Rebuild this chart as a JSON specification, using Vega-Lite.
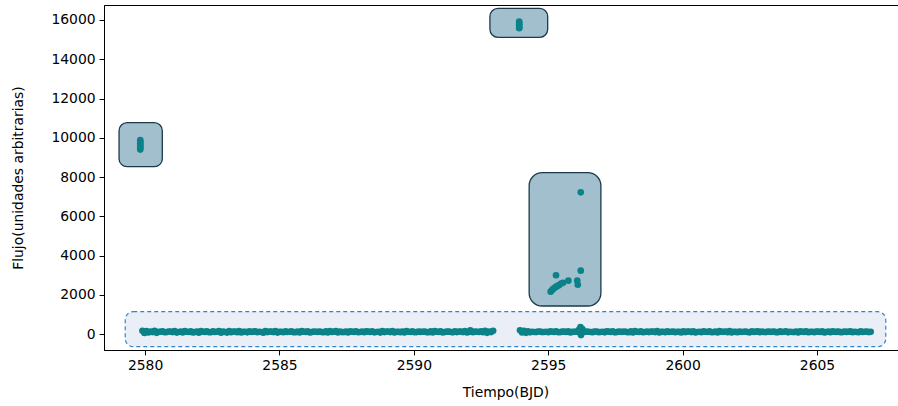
{
  "$schema": "https://vega.github.io/schema/vega-lite/v6.json",
  "autosize": "none",
  "padding": {"left": 104, "top": 5, "right": 0, "bottom": 56},
  "width": 803,
  "height": 345,
  "config": {
    "view": {"stroke": "#000000", "strokeWidth": 1},
    "font": "DejaVu Sans",
    "axis": {
      "labelFont": "DejaVu Sans", "labelFontSize": 13.9, "labelColor": "#000000",
      "titleFont": "DejaVu Sans", "titleFontSize": 13.9, "titleFontWeight": "normal", "titleColor": "#000000",
      "domainColor": "#000000", "tickColor": "#000000", "tickSize": 4.9, "labelPadding": 4, "grid": false
    }
  },
  "datasets": {
    "boxes": [
      {"x": 2579.03, "x2": 2580.64, "y": 10768, "y2": 8529},
      {"x": 2592.83, "x2": 2594.98, "y": 16590, "y2": 15115}
    ],
    "mid": [
      {"x": 2594.29, "x2": 2596.96, "y": 8224, "y2": 1440}
    ],
    "base": [
      {"x": 2579.26, "x2": 2607.56, "y": 1150, "y2": -631}
    ],
    "pts": [
      {"t": 2579.82, "f": 9880}, {"t": 2579.82, "f": 9800}, {"t": 2579.82, "f": 9720}, {"t": 2579.82, "f": 9640}, {"t": 2579.82, "f": 9560}, {"t": 2579.82, "f": 9480}, {"t": 2579.82, "f": 9400},
      {"t": 2593.92, "f": 15920}, {"t": 2593.92, "f": 15850}, {"t": 2593.92, "f": 15780}, {"t": 2593.92, "f": 15700}, {"t": 2593.92, "f": 15620}, {"t": 2593.92, "f": 15580},
      {"t": 2596.21, "f": 7226}, {"t": 2596.21, "f": 3237}, {"t": 2595.29, "f": 3002}, {"t": 2595.75, "f": 2728}, {"t": 2596.08, "f": 2728}, {"t": 2596.1, "f": 2524},
      {"t": 2595.09, "f": 2170}, {"t": 2595.15, "f": 2260}, {"t": 2595.2, "f": 2330}, {"t": 2595.27, "f": 2400}, {"t": 2595.33, "f": 2450}, {"t": 2595.4, "f": 2500}, {"t": 2595.48, "f": 2580}, {"t": 2595.55, "f": 2620},
      {"t": 2579.90, "f": 180}, {"t": 2580.05, "f": 161}, {"t": 2580.20, "f": 140}, {"t": 2580.35, "f": 176}, {"t": 2580.50, "f": 122}, {"t": 2580.65, "f": 149}, {"t": 2580.80, "f": 110}, {"t": 2580.95, "f": 137}, {"t": 2581.10, "f": 164}, {"t": 2581.25, "f": 116},
      {"t": 2581.40, "f": 92}, {"t": 2581.55, "f": 131}, {"t": 2581.70, "f": 155}, {"t": 2581.85, "f": 113}, {"t": 2582.00, "f": 80}, {"t": 2582.15, "f": 128}, {"t": 2582.30, "f": 146}, {"t": 2582.45, "f": 101}, {"t": 2582.60, "f": 119}, {"t": 2582.75, "f": 170},
      {"t": 2582.90, "f": 134}, {"t": 2583.05, "f": 86}, {"t": 2583.20, "f": 107}, {"t": 2583.35, "f": 143}, {"t": 2583.50, "f": 158}, {"t": 2583.65, "f": 122}, {"t": 2583.80, "f": 98}, {"t": 2583.95, "f": 116}, {"t": 2584.10, "f": 149}, {"t": 2584.25, "f": 131},
      {"t": 2584.40, "f": 83}, {"t": 2584.55, "f": 110}, {"t": 2584.70, "f": 137}, {"t": 2584.85, "f": 164}, {"t": 2585.00, "f": 125}, {"t": 2585.15, "f": 101}, {"t": 2585.30, "f": 119}, {"t": 2585.45, "f": 146}, {"t": 2585.60, "f": 107}, {"t": 2585.75, "f": 92},
      {"t": 2585.90, "f": 134}, {"t": 2586.05, "f": 155}, {"t": 2586.20, "f": 113}, {"t": 2586.35, "f": 128}, {"t": 2586.50, "f": 140}, {"t": 2586.65, "f": 104}, {"t": 2586.80, "f": 89}, {"t": 2586.95, "f": 122}, {"t": 2587.10, "f": 161}, {"t": 2587.25, "f": 137},
      {"t": 2587.40, "f": 110}, {"t": 2587.55, "f": 95}, {"t": 2587.70, "f": 128}, {"t": 2587.85, "f": 149}, {"t": 2588.00, "f": 116}, {"t": 2588.15, "f": 101}, {"t": 2588.30, "f": 134}, {"t": 2588.45, "f": 152}, {"t": 2588.60, "f": 119}, {"t": 2588.75, "f": 86},
      {"t": 2588.90, "f": 113}, {"t": 2589.05, "f": 140}, {"t": 2589.20, "f": 158}, {"t": 2589.35, "f": 125}, {"t": 2589.50, "f": 107}, {"t": 2589.65, "f": 92}, {"t": 2589.80, "f": 131}, {"t": 2589.95, "f": 146}, {"t": 2590.10, "f": 110}, {"t": 2590.25, "f": 122},
      {"t": 2590.40, "f": 143}, {"t": 2590.55, "f": 104}, {"t": 2590.70, "f": 89}, {"t": 2590.85, "f": 128}, {"t": 2591.00, "f": 155}, {"t": 2591.15, "f": 116}, {"t": 2591.30, "f": 134}, {"t": 2591.45, "f": 98}, {"t": 2591.60, "f": 113}, {"t": 2591.75, "f": 140},
      {"t": 2591.90, "f": 161}, {"t": 2592.05, "f": 122}, {"t": 2592.10, "f": 200}, {"t": 2592.20, "f": 107}, {"t": 2592.35, "f": 131}, {"t": 2592.50, "f": 149}, {"t": 2592.65, "f": 176}, {"t": 2592.80, "f": 140}, {"t": 2592.95, "f": 180},
      {"t": 2579.975, "f": 70}, {"t": 2580.125, "f": 89}, {"t": 2580.275, "f": 110}, {"t": 2580.425, "f": 74}, {"t": 2580.575, "f": 128}, {"t": 2580.725, "f": 101}, {"t": 2580.875, "f": 140}, {"t": 2581.025, "f": 113}, {"t": 2581.175, "f": 86}, {"t": 2581.325, "f": 134},
      {"t": 2581.475, "f": 158}, {"t": 2581.625, "f": 119}, {"t": 2581.775, "f": 95}, {"t": 2581.925, "f": 137}, {"t": 2582.075, "f": 170}, {"t": 2582.225, "f": 122}, {"t": 2582.375, "f": 104}, {"t": 2582.525, "f": 149}, {"t": 2582.675, "f": 131}, {"t": 2582.825, "f": 80},
      {"t": 2582.975, "f": 116}, {"t": 2583.125, "f": 164}, {"t": 2583.275, "f": 143}, {"t": 2583.425, "f": 107}, {"t": 2583.575, "f": 92}, {"t": 2583.725, "f": 128}, {"t": 2583.875, "f": 152}, {"t": 2584.025, "f": 134}, {"t": 2584.175, "f": 101}, {"t": 2584.325, "f": 119},
      {"t": 2584.475, "f": 167}, {"t": 2584.625, "f": 140}, {"t": 2584.775, "f": 113}, {"t": 2584.925, "f": 86}, {"t": 2585.075, "f": 125}, {"t": 2585.225, "f": 149}, {"t": 2585.375, "f": 131}, {"t": 2585.525, "f": 104}, {"t": 2585.675, "f": 143}, {"t": 2585.825, "f": 158},
      {"t": 2585.975, "f": 116}, {"t": 2586.125, "f": 95}, {"t": 2586.275, "f": 137}, {"t": 2586.425, "f": 122}, {"t": 2586.575, "f": 110}, {"t": 2586.725, "f": 146}, {"t": 2586.875, "f": 161}, {"t": 2587.025, "f": 128}, {"t": 2587.175, "f": 89}, {"t": 2587.325, "f": 113},
      {"t": 2587.475, "f": 140}, {"t": 2587.625, "f": 155}, {"t": 2587.775, "f": 122}, {"t": 2587.925, "f": 101}, {"t": 2588.075, "f": 134}, {"t": 2588.225, "f": 149}, {"t": 2588.375, "f": 116}, {"t": 2588.525, "f": 98}, {"t": 2588.675, "f": 131}, {"t": 2588.825, "f": 164},
      {"t": 2588.975, "f": 137}, {"t": 2589.125, "f": 110}, {"t": 2589.275, "f": 92}, {"t": 2589.425, "f": 125}, {"t": 2589.575, "f": 143}, {"t": 2589.725, "f": 158}, {"t": 2589.875, "f": 119}, {"t": 2590.025, "f": 104}, {"t": 2590.175, "f": 140}, {"t": 2590.325, "f": 128},
      {"t": 2590.475, "f": 107}, {"t": 2590.625, "f": 146}, {"t": 2590.775, "f": 161}, {"t": 2590.925, "f": 122}, {"t": 2591.075, "f": 95}, {"t": 2591.225, "f": 134}, {"t": 2591.375, "f": 116}, {"t": 2591.525, "f": 152}, {"t": 2591.675, "f": 137}, {"t": 2591.825, "f": 110},
      {"t": 2591.975, "f": 89}, {"t": 2592.125, "f": 128}, {"t": 2592.275, "f": 143}, {"t": 2592.425, "f": 119}, {"t": 2592.575, "f": 101}, {"t": 2592.725, "f": 74}, {"t": 2592.875, "f": 110},
      {"t": 2593.95, "f": 200}, {"t": 2594.10, "f": 176}, {"t": 2594.25, "f": 152}, {"t": 2594.40, "f": 131}, {"t": 2594.55, "f": 110}, {"t": 2594.70, "f": 137}, {"t": 2594.85, "f": 119}, {"t": 2595.00, "f": 101}, {"t": 2595.15, "f": 128}, {"t": 2595.30, "f": 146},
      {"t": 2595.45, "f": 113}, {"t": 2595.60, "f": 134}, {"t": 2595.75, "f": 155}, {"t": 2595.90, "f": 122}, {"t": 2596.05, "f": 140}, {"t": 2596.15, "f": 240}, {"t": 2596.20, "f": 370}, {"t": 2596.22, "f": -40}, {"t": 2596.27, "f": 260}, {"t": 2596.35, "f": 116},
      {"t": 2596.50, "f": 131}, {"t": 2596.65, "f": 107}, {"t": 2596.80, "f": 143}, {"t": 2596.95, "f": 119}, {"t": 2597.10, "f": 98}, {"t": 2597.25, "f": 134}, {"t": 2597.40, "f": 152}, {"t": 2597.55, "f": 113}, {"t": 2597.70, "f": 125}, {"t": 2597.85, "f": 140},
      {"t": 2598.00, "f": 104}, {"t": 2598.15, "f": 92}, {"t": 2598.30, "f": 131}, {"t": 2598.45, "f": 149}, {"t": 2598.60, "f": 116}, {"t": 2598.75, "f": 110}, {"t": 2598.90, "f": 137}, {"t": 2599.05, "f": 158}, {"t": 2599.20, "f": 122}, {"t": 2599.35, "f": 101},
      {"t": 2599.50, "f": 119}, {"t": 2599.65, "f": 143}, {"t": 2599.80, "f": 128}, {"t": 2599.95, "f": 95}, {"t": 2600.10, "f": 113}, {"t": 2600.25, "f": 140}, {"t": 2600.40, "f": 155}, {"t": 2600.55, "f": 119}, {"t": 2600.70, "f": 104}, {"t": 2600.85, "f": 131},
      {"t": 2601.00, "f": 146}, {"t": 2601.15, "f": 110}, {"t": 2601.30, "f": 92}, {"t": 2601.45, "f": 125}, {"t": 2601.60, "f": 143}, {"t": 2601.75, "f": 161}, {"t": 2601.90, "f": 128}, {"t": 2602.05, "f": 107}, {"t": 2602.20, "f": 119}, {"t": 2602.35, "f": 137},
      {"t": 2602.50, "f": 98}, {"t": 2602.65, "f": 116}, {"t": 2602.80, "f": 149}, {"t": 2602.95, "f": 134}, {"t": 2603.10, "f": 110}, {"t": 2603.25, "f": 125}, {"t": 2603.40, "f": 143}, {"t": 2603.55, "f": 101}, {"t": 2603.70, "f": 119}, {"t": 2603.85, "f": 152},
      {"t": 2604.00, "f": 131}, {"t": 2604.15, "f": 113}, {"t": 2604.30, "f": 95}, {"t": 2604.45, "f": 128}, {"t": 2604.60, "f": 146}, {"t": 2604.75, "f": 122}, {"t": 2604.90, "f": 107}, {"t": 2605.05, "f": 134}, {"t": 2605.20, "f": 155}, {"t": 2605.35, "f": 116},
      {"t": 2605.50, "f": 101}, {"t": 2605.65, "f": 128}, {"t": 2605.80, "f": 143}, {"t": 2605.95, "f": 110}, {"t": 2606.10, "f": 122}, {"t": 2606.25, "f": 149}, {"t": 2606.40, "f": 131}, {"t": 2606.55, "f": 104}, {"t": 2606.70, "f": 119}, {"t": 2606.85, "f": 140},
      {"t": 2607.00, "f": 125},
      {"t": 2594.025, "f": 90}, {"t": 2594.175, "f": 74}, {"t": 2594.325, "f": 98}, {"t": 2594.475, "f": 119}, {"t": 2594.625, "f": 140}, {"t": 2594.775, "f": 113}, {"t": 2594.925, "f": 131}, {"t": 2595.075, "f": 149}, {"t": 2595.225, "f": 122}, {"t": 2595.375, "f": 104},
      {"t": 2595.525, "f": 137}, {"t": 2595.675, "f": 116}, {"t": 2595.825, "f": 95}, {"t": 2595.975, "f": 128}, {"t": 2596.125, "f": 110}, {"t": 2596.275, "f": 125}, {"t": 2596.425, "f": 134}, {"t": 2596.575, "f": 119}, {"t": 2596.725, "f": 143}, {"t": 2596.875, "f": 107},
      {"t": 2597.025, "f": 131}, {"t": 2597.175, "f": 152}, {"t": 2597.325, "f": 116}, {"t": 2597.475, "f": 98}, {"t": 2597.625, "f": 137}, {"t": 2597.775, "f": 125}, {"t": 2597.925, "f": 110}, {"t": 2598.075, "f": 146}, {"t": 2598.225, "f": 158}, {"t": 2598.375, "f": 119},
      {"t": 2598.525, "f": 101}, {"t": 2598.675, "f": 134}, {"t": 2598.825, "f": 140}, {"t": 2598.975, "f": 113}, {"t": 2599.125, "f": 92}, {"t": 2599.275, "f": 128}, {"t": 2599.425, "f": 149}, {"t": 2599.575, "f": 131}, {"t": 2599.725, "f": 107}, {"t": 2599.875, "f": 122},
      {"t": 2600.025, "f": 155}, {"t": 2600.175, "f": 137}, {"t": 2600.325, "f": 110}, {"t": 2600.475, "f": 95}, {"t": 2600.625, "f": 131}, {"t": 2600.775, "f": 146}, {"t": 2600.925, "f": 119}, {"t": 2601.075, "f": 104}, {"t": 2601.225, "f": 140}, {"t": 2601.375, "f": 158},
      {"t": 2601.525, "f": 125}, {"t": 2601.675, "f": 107}, {"t": 2601.825, "f": 89}, {"t": 2601.975, "f": 122}, {"t": 2602.125, "f": 143}, {"t": 2602.275, "f": 131}, {"t": 2602.425, "f": 113}, {"t": 2602.575, "f": 152}, {"t": 2602.725, "f": 134}, {"t": 2602.875, "f": 101},
      {"t": 2603.025, "f": 116}, {"t": 2603.175, "f": 140}, {"t": 2603.325, "f": 125}, {"t": 2603.475, "f": 107}, {"t": 2603.625, "f": 149}, {"t": 2603.775, "f": 131}, {"t": 2603.925, "f": 98}, {"t": 2604.075, "f": 119}, {"t": 2604.225, "f": 137}, {"t": 2604.375, "f": 155},
      {"t": 2604.525, "f": 122}, {"t": 2604.675, "f": 104}, {"t": 2604.825, "f": 128}, {"t": 2604.975, "f": 143}, {"t": 2605.125, "f": 116}, {"t": 2605.275, "f": 95}, {"t": 2605.425, "f": 134}, {"t": 2605.575, "f": 149}, {"t": 2605.725, "f": 122}, {"t": 2605.875, "f": 107},
      {"t": 2606.025, "f": 140}, {"t": 2606.175, "f": 128}, {"t": 2606.325, "f": 101}, {"t": 2606.475, "f": 119}, {"t": 2606.625, "f": 146}, {"t": 2606.775, "f": 131}, {"t": 2606.925, "f": 110}
    ]
  },
  "layer": [
    {
      "data": {"name": "base"},
      "mark": {"type": "rect", "fill": "#eaeef6", "stroke": "#2f86d0", "strokeWidth": 1.2, "strokeDash": [4, 3], "cornerRadius": 8},
      "encoding": {
        "x": {"field": "x", "type": "quantitative", "scale": {"domain": [2578.47, 2608.35], "nice": false, "zero": false},
              "axis": {"values": [2580, 2585, 2590, 2595, 2600, 2605], "title": "Tiempo(BJD)", "titlePadding": 13, "format": "d"}},
        "x2": {"field": "x2"},
        "y": {"field": "y", "type": "quantitative", "scale": {"domain": [-800, 16760], "nice": false, "zero": false},
              "axis": {"values": [0, 2000, 4000, 6000, 8000, 10000, 12000, 14000, 16000], "title": "Flujo(unidades arbitrarias)", "titlePadding": 25, "format": "d"}},
        "y2": {"field": "y2"}
      }
    },
    {
      "data": {"name": "boxes"},
      "mark": {"type": "rect", "fill": "#a1bfcc", "stroke": "#1d3a4b", "strokeWidth": 1.3, "cornerRadius": 8},
      "encoding": {
        "x": {"field": "x", "type": "quantitative"},
        "x2": {"field": "x2"},
        "y": {"field": "y", "type": "quantitative"},
        "y2": {"field": "y2"}
      }
    },
    {
      "data": {"name": "mid"},
      "mark": {"type": "rect", "fill": "#a1bfcc", "stroke": "#1d3a4b", "strokeWidth": 1.3, "cornerRadius": 13},
      "encoding": {
        "x": {"field": "x", "type": "quantitative"},
        "x2": {"field": "x2"},
        "y": {"field": "y", "type": "quantitative"},
        "y2": {"field": "y2"}
      }
    },
    {
      "data": {"name": "pts"},
      "mark": {"type": "circle", "color": "#0a8288", "opacity": 1, "size": 44},
      "encoding": {
        "x": {"field": "t", "type": "quantitative"},
        "y": {"field": "f", "type": "quantitative"}
      }
    }
  ]
}
